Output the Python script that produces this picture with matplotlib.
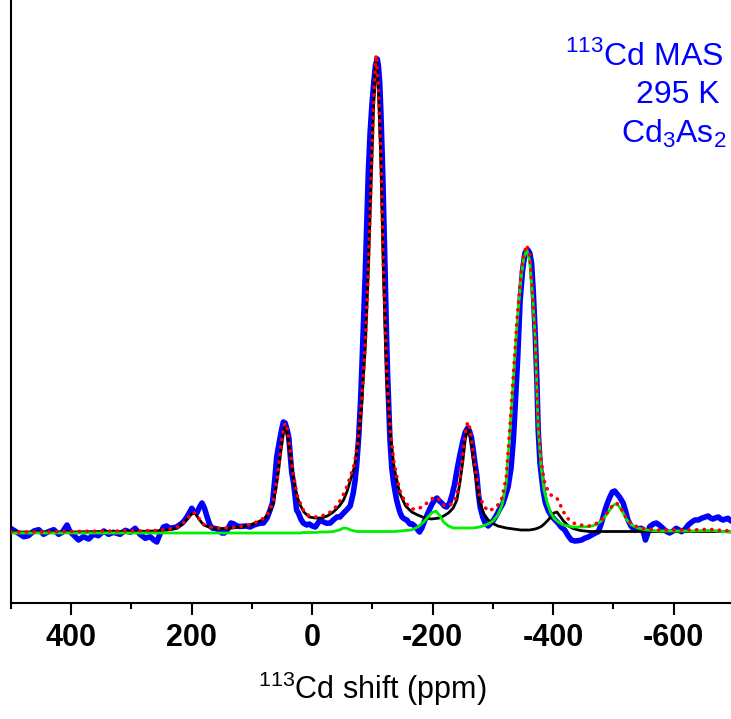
import matplotlib
matplotlib.use("Agg")
import matplotlib.pyplot as plt
from matplotlib.ticker import MultipleLocator

plt.rcParams['font.family'] = ['Liberation Sans', 'DejaVu Sans']
plt.rcParams['mathtext.fontset'] = 'custom'
plt.rcParams['mathtext.rm'] = 'Liberation Sans'

# ---- fitted curves (ppm, intensity a.u.) ----
fit_ppm = [500, 450, 400, 350, 300, 260, 240, 225, 215, 207,
           201, 197, 193, 187, 180, 170, 158, 140, 125, 110,
           100, 90, 80, 72, 65, 60, 56, 52, 48, 45,
           42, 38, 34, 30, 25, 20, 14, 5, -5, -15,
           -25, -35, -45, -52, -58, -64, -70, -76, -82, -88,
           -93, -98, -102, -106, -110, -114, -118, -124, -130, -136,
           -145, -155, -165, -175, -185, -192, -198, -205, -211, -218,
           -226, -234, -240, -245, -250, -254, -258, -262, -267, -272,
           -278, -285, -292, -300, -308, -315, -322, -328, -334, -340,
           -346, -351, -356, -361, -366, -370, -375, -380, -385, -390,
           -396, -401, -406, -411, -417, -425, -433, -445, -460, -470,
           -480, -488, -495, -500, -505, -510, -516, -522, -530, -540,
           -555, -575, -600, -630, -650, -665, -680, -700]

fit_black = [1, 1, 1, 1.5, 1.5, 2, 3, 5, 9, 14,
             18.5, 20, 18.5, 13, 8, 5.5, 4.5, 4.5, 5.5, 7,
             8.5, 11, 14, 20, 30, 45, 62, 82, 99, 106,
             101, 85, 66, 50, 36, 28, 21, 16, 15, 15,
             17, 21, 27, 33, 42, 54, 66, 90, 128, 185,
             260, 355, 430, 475, 440, 370, 262, 150, 95, 65,
             40, 27, 21, 18, 15.5, 14.5, 14, 14.5, 15, 17,
             20, 25, 33, 50, 72, 94, 104, 98, 75, 53,
             30, 19, 13, 9.5, 7, 6, 5, 4.5, 4, 3.5,
             3, 3, 3, 3, 3.5, 4, 5, 6.5, 9, 12,
             16, 20, 21, 17, 12, 7, 4.5, 2.5, 1.5, 1.5,
             1.5, 1.5, 1.5, 1.5, 1.5, 1.5, 1.5, 1.5, 1.5, 1.5,
             1.5, 1.5, 1.5, 1.5, 1.5, 1.5, 1.5, 1]

fit_green = [0, 0, 0, 0, 0, 0, 0, 0, 0, 0,
             0, 0, 0, 0, 0, 0, 0, 0, 0, 0,
             0, 0, 0, 0, 0, 0, 0, 0, 0, 0,
             0, 0, 0, 0, 0, 0, 0.5, 0.5, 0.5, 1,
             1, 1.5, 3, 5, 4.5, 3, 2, 1.5, 1.5, 1.5,
             1.5, 1.5, 1.5, 1.5, 1.5, 1.5, 1.5, 1.5, 1.5, 1.5,
             2, 2.5, 3, 6, 11, 16, 20, 22, 18, 11,
             7, 5, 5, 5, 5, 5, 5, 5, 5, 5.5,
             6, 7.5, 9, 12, 18, 28, 50, 100, 155, 210,
             252, 275, 283, 272, 235, 195, 105, 65, 42, 30,
             20, 15, 12, 10, 8, 7, 6, 6, 6.5, 8,
             12, 18, 24, 28, 29, 26, 20, 13, 8, 5,
             3, 2, 2, 2, 2.5, 2.5, 1.5, 1]

fit_total = [1, 1, 1.5, 2, 2, 2.5, 3.5, 5.5, 9.5, 14.5,
             19, 20.5, 19, 13.5, 8.5, 6, 5, 5, 6, 7.5,
             9, 11.5, 15, 21, 31, 47, 65, 86, 104, 110,
             106, 89, 70, 53, 38, 30, 22, 17, 16, 17,
             19, 23, 31, 39, 47, 58, 69, 93, 131, 188,
             263, 358, 433, 478, 444, 374, 266, 154, 99, 69,
             43, 30, 24, 24, 27, 31, 34, 36, 33, 28,
             27, 30, 38, 55, 78, 100, 111, 104, 81, 59,
             36, 27, 22, 24, 28, 35, 56, 105, 160, 214,
             256, 279, 288, 277, 240, 200, 112, 72, 52, 44,
             38, 37, 35, 29, 21, 14, 10, 8, 7, 9,
             13, 19, 25, 28.5, 30, 27, 21, 14, 9, 6,
             4, 3, 3, 3, 3.5, 3.5, 2.5, 2]

# ---- experimental spectrum ----
exp_ppm = [498, 490, 479, 471, 462, 454, 446, 438, 429, 421,
           415, 407, 402, 395, 388, 380, 371, 363, 355, 346,
           338, 330, 319, 310, 302, 294, 286, 277, 269, 263,
           258, 252, 247, 242, 236, 225, 214, 207, 200, 196,
           191.5, 187, 183, 179, 175, 170, 166, 158, 150, 146,
           141, 135, 130, 125, 120, 110, 103, 97, 87, 81,
           75, 70, 66, 62, 59, 55, 51, 48, 45, 42,
           39, 34, 31, 26, 23, 19, 15, 9, 5, 0,
           -5, -13, -19, -24, -30, -35, -41, -46, -52, -57,
           -63, -68, -71, -74, -77, -80, -82, -85, -88, -91,
           -93, -96, -99, -102, -105, -108, -110, -112, -114, -117,
           -119, -121, -123, -125, -127, -129, -132, -135, -137, -140,
           -143, -146, -149, -153, -157, -162, -166, -170, -174, -178,
           -182, -187, -192, -198, -203, -207, -211, -215, -219, -223,
           -228, -232, -236, -240, -245, -250, -254, -258, -261, -264,
           -267, -270, -273, -276, -279, -283, -287, -292, -297, -301,
           -306, -311, -316, -321, -325, -330, -334, -337, -341, -345,
           -349, -353, -358, -361, -364, -367, -370, -373, -375, -378,
           -383, -387, -392, -397, -403, -408, -413, -419, -425, -430,
           -436, -441, -447, -452, -458, -464, -470, -475, -480, -486,
           -490, -494, -498, -502, -506, -510, -513, -516, -520, -524,
           -529, -535, -540, -546, -550, -553, -556, -560, -566, -571,
           -576, -582, -587, -593, -599, -604, -609, -613, -619, -624,
           -630, -635, -641, -646, -652, -657, -661, -665, -669, -674,
           -678, -682, -686, -690, -695, -700]

exp_int = [3.7, 0.7, -3.7, -2.7, 2, 3.3, -1.3, 1.3, 3.3, -1.3,
           0.7, 8, 1.3, -2.7, -7, -3.7, -6, -1.3, -2.7, 2,
           -1.3, 0.7, -1.3, 2.7, 0.7, 4.7, -1.3, -5.3, -3.7, -7,
           -9, 0, 6, 7, 4.7, 6, 11, 17, 24.7, 21,
           20, 26, 30, 25, 17, 8, 5, 4, 0, 0,
           3, 10, 9, 7, 6.5, 7, 6, 8, 9.7, 10,
           15, 23, 30, 55, 76, 90, 103, 111, 110, 104,
           96, 60, 50, 23, 20, 14, 10, 8, 9, 7,
           6, 13, 11, 9.7, 10, 13, 16, 16, 20, 23,
           27, 40, 52, 70, 95, 130, 160, 210, 260, 320,
           360, 400, 428, 450, 468, 474, 466, 450, 420, 360,
           310, 260, 205, 160, 125, 93, 65, 50, 43, 33,
           26, 20, 16, 14, 13, 9, 9, 7, 4, 1,
           5, 13, 20, 28, 33, 35, 32, 30, 27, 26,
           30, 38, 48, 62, 78, 92, 101, 105, 102, 96,
           84, 70, 58, 38, 25, 16, 10, 7, 10, 13,
           18, 24, 29, 38, 46, 65, 95, 130, 175, 232,
           262, 280, 283, 280, 270, 240, 200, 150, 103, 70,
           43, 30, 22, 17, 13, 10, 6, 3, -3, -7,
           -8, -7.7, -7, -5.3, -4, -2, 0, 1.3, 10, 23,
           30, 36, 41, 42, 39, 36, 33, 30, 22, 13,
           7, 3, 4, 4.7, 0, -7, -2, 6.3, 9, 10,
           8, 4.7, 2, 0, 2, 4.7, 3, 1.3, 4, 8,
           11, 13, 13, 14.7, 16, 17, 15, 14, 15, 16,
           14, 13, 14, 14.7, 12, 13]

x_ticks = [400, 200, 0, -200, -400, -600]

# --------------------------------------------------------------------------- #

fig = plt.figure(figsize=(7.31, 7.19), dpi=100)
ax = fig.add_axes([11/731, 1 - 603/719, 723/731, 603/719])

ax.plot(exp_ppm, exp_int, color='#0000ff', lw=4.0, solid_joinstyle='round', zorder=1)
ax.plot(fit_ppm, fit_black, color='black', lw=2.0, zorder=2)
ax.plot(fit_ppm, fit_green, color='#00ee00', lw=2.0, zorder=3)
ax.plot(fit_ppm, fit_total, color='#ff0000', lw=2.6, linestyle=(0, (0.1, 2.0)),
        dash_capstyle='round', zorder=4)

ax.set_xlim(500, -700)
ax.set_ylim(-70, 533)
ax.set_xticks(x_ticks)
ax.set_xticklabels([str(t) for t in x_ticks], fontweight='bold', fontsize=22)
ax.xaxis.set_minor_locator(MultipleLocator(100))
ax.tick_params(axis='x', which='major', direction='out', length=8.5, width=1.5, pad=6)
ax.tick_params(axis='x', which='minor', direction='out', length=4.5, width=1.5)
ax.set_yticks([])
for s in ['top', 'right']:
    ax.spines[s].set_visible(False)
for s in ['left', 'bottom']:
    ax.spines[s].set_linewidth(1.5)

ax.set_xlabel(r'$^{\mathregular{113}}$Cd shift (ppm)', fontsize=22, labelpad=12)

fig.text(723/731, 1 - 65/719, r'$^{\mathregular{113}}$Cd MAS', ha='right', va='baseline',
         fontsize=23, color='#0000ff')
fig.text(720/731, 1 - 103/719, '295 K', ha='right', va='baseline',
         fontsize=23, color='#0000ff')
fig.text(727/731, 1 - 143/719, r'Cd$_{\mathregular{3}}$As$_{\mathregular{2}}$', ha='right',
         va='baseline', fontsize=23, color='#0000ff')

fig.savefig('out.png', dpi=100)
